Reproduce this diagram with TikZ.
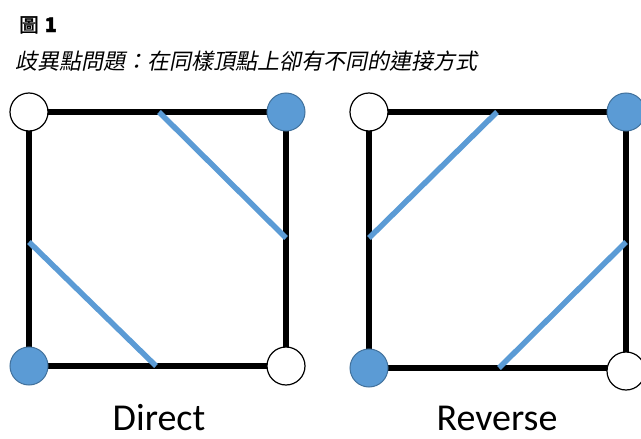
\documentclass[tikz,border=0pt]{standalone}
\usepackage{fontspec}
\setmainfont{Liberation Serif}
\newfontfamily\cjk{Noto Sans CJK TC}
\newfontfamily\cjkbold[FakeBold=2]{Noto Sans CJK TC}
\newfontfamily\cjkit[FakeSlant=0.2]{Noto Sans CJK TC}
\newfontfamily\labelfont{Carlito}
\definecolor{bluefill}{HTML}{5B9BD5}
\definecolor{blueedge}{HTML}{41719C}
\tikzset{
  edgeline/.style={line width=6.5pt, black},
  linkline/.style={line width=5.5pt, bluefill},
  vwhite/.style={circle, draw=black, line width=1.2pt, fill=white, minimum size=38pt, inner sep=0pt},
  vblue/.style={circle, draw=blueedge, line width=1pt, fill=bluefill, minimum size=38pt, inner sep=0pt},
  caption/.style={font=\labelfont\fontsize{38}{44}\selectfont, anchor=base, inner sep=0pt, text depth=0pt},
}
\begin{document}
\begin{tikzpicture}[x=1pt,y=-1pt]
\useasboundingbox (0,0) rectangle (641,439);
% title
\node[anchor=base west, inner sep=0pt] (t1) at (19,32) {\cjkbold\fontsize{19.5}{22}\selectfont 圖\hspace{6pt}\textbf{\fontsize{20}{22}\selectfont 1}};
\node[anchor=base west, inner sep=0pt] (t2) at (15,69) {\cjkit\fontsize{22}{24}\selectfont 歧異點問題：在同樣頂點上卻有不同的連接方式};
% left square (Direct)
\coordinate (lTL) at (29,112);
\coordinate (lTR) at (286,112);
\coordinate (lBL) at (29,366);
\coordinate (lBR) at (286,366);
\draw[edgeline] (lTL) -- (lTR) -- (lBR) -- (lBL) -- cycle;
\coordinate (la1) at (159,112);
\coordinate (la2) at (286,238);
\coordinate (lb1) at (29,242);
\coordinate (lb2) at (156,366);
\draw[linkline] (la1) -- (la2);
\draw[linkline] (lb1) -- (lb2);
\node[vwhite] (nlTL) at (lTL) {};
\node[vblue]  (nlTR) at (lTR) {};
\node[vblue]  (nlBL) at (lBL) {};
\node[vwhite] (nlBR) at (lBR) {};
% right square (Reverse)
\coordinate (rTL) at (369,112);
\coordinate (rTR) at (626,112);
\coordinate (rBL) at (369,368);
\coordinate (rBR) at (626,368);
\draw[edgeline] (rTL) -- (rTR) -- (rBR) -- (rBL) -- cycle;
\coordinate (ra1) at (369,238);
\coordinate (ra2) at (497,112);
\coordinate (rb1) at (499,368);
\coordinate (rb2) at (626,242);
\draw[linkline] (ra1) -- (ra2);
\draw[linkline] (rb1) -- (rb2);
\node[vwhite] (nrTL) at (rTL) {};
\node[vblue]  (nrTR) at (rTR) {};
\node[vblue]  (nrBL) at (rBL) {};
\node[vwhite] (nrBR) at ([yshift=-3pt]rBR) {};
% captions
\node[caption] (capD) at (159,430) {Direct};
\node[caption] (capR) at (497,430) {Reverse};
\end{tikzpicture}
\end{document}
